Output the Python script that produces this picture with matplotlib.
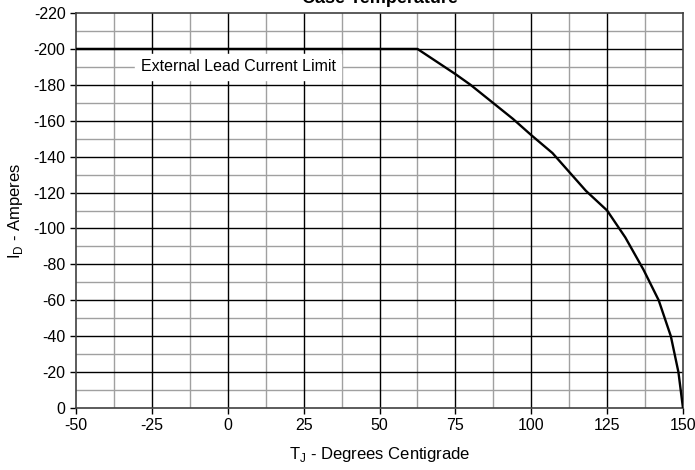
import numpy as np
import matplotlib.pyplot as plt

plt.rcParams['font.family'] = ['Liberation Sans', 'DejaVu Sans']
plt.rcParams['axes.unicode_minus'] = False

# Curva de derating: corriente vs temperatura
temp = [-50, 62.5, 75, 80, 94, 100, 107, 118, 125, 131, 137, 142, 146, 148.5, 150]
corriente = [-200, -200, -186, -180, -161, -152, -142, -121, -110, -95, -77, -60, -40, -20, 0]

x_ticks = np.arange(-50, 151, 25)
y_ticks = np.arange(0, -221, -20)

fig = plt.figure(figsize=(6.95, 4.70), dpi=100)
ax = fig.add_axes([0.1094, 0.1319, 0.8733, 0.8404])

# cuadricula menor y mayor
for xv in np.arange(-37.5, 150, 25):
    ax.axvline(xv, color='#a0a0a0', lw=1.0, zorder=1)
for yv in np.arange(-10, -221, -20):
    ax.axhline(yv, color='#a0a0a0', lw=1.0, zorder=1)
for xv in x_ticks[1:-1]:
    ax.axvline(xv, color='black', lw=1.0, zorder=1)
for yv in y_ticks[1:-1]:
    ax.axhline(yv, color='black', lw=1.0, zorder=1)

ax.plot(temp, corriente, color='black', lw=1.7, zorder=3)

ax.set_xlim(-50, 150)
ax.set_ylim(0, -220)
ax.set_xticks(x_ticks)
ax.set_yticks(y_ticks)
ax.tick_params(direction='out', length=4, width=1, labelsize=11.5, colors='black')
for s in ax.spines.values():
    s.set_color('#404040')
    s.set_linewidth(1.2)

ax.text(3.5, -190, 'External Lead Current Limit', ha='center', va='center',
        fontsize=11.5, backgroundcolor='white', zorder=2)

ax.set_xlabel('T$_\\mathregular{J}$ - Degrees Centigrade', fontsize=12, labelpad=8)
ax.set_ylabel('I$_\\mathregular{D}$ - Amperes', fontsize=12, labelpad=6)
ax.set_title('Case Temperature', fontsize=13, fontweight='bold', pad=7)

fig.savefig('out.png', dpi=100)
